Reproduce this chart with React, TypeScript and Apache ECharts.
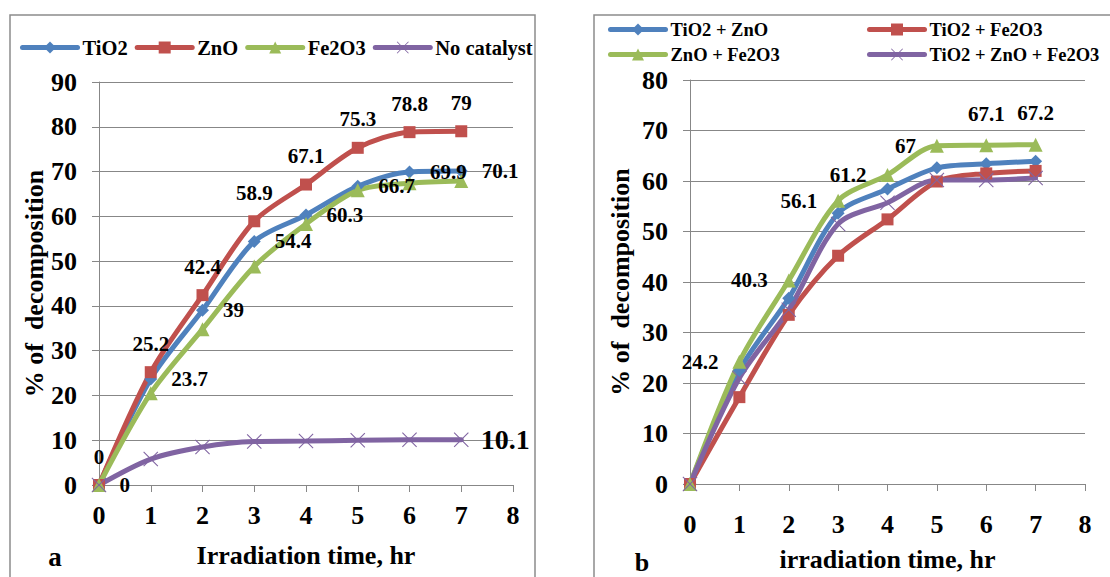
import React, { useEffect, useRef } from "react";
import * as echarts from "echarts";

const hours = [0, 1, 2, 3, 4, 5, 6, 7];

const namesA = ["TiO2", "ZnO", "Fe2O3", "No catalyst"];
const tio2A = [0, 23.7, 39, 54.4, 60.3, 66.7, 69.9, 70.1];
const znoA = [0, 25.2, 42.4, 58.9, 67.1, 75.3, 78.8, 79];
const fe2o3A = [0, 20.5, 34.8, 48.8, 58.3, 65.8, 67.4, 67.9];
const noCatA = [0, 5.8, 8.5, 9.7, 9.8, 10, 10.1, 10.1];

const namesB = ["TiO2 + ZnO", "TiO2 + Fe2O3", "ZnO + Fe2O3", "TiO2 + ZnO + Fe2O3"];
const tio2ZnoB = [0, 22.5, 36.8, 53.6, 58.4, 62.6, 63.4, 63.9];
const tio2Fe2o3B = [0, 17.2, 33.5, 45.2, 52.4, 59.9, 61.5, 62];
const znoFe2o3B = [0, 24.2, 40.3, 56.1, 61.2, 67, 67.1, 67.2];
const mixB = [0, 21, 34.5, 51.5, 55.7, 60.2, 60.2, 60.6];

const xTitleA = "Irradiation time, hr";
const xTitleB = "irradiation time, hr";
const yTitle = "% of  decomposition";

const FONT = "'Liberation Serif', 'Times New Roman', Times, serif";
const COLORS = ["#4F81BD", "#C0504D", "#9BBB59", "#8064A2"];
const XPATH =
  "path://M1,0 L10,9 L19,0 L20,1 L11,10 L20,19 L19,20 L10,11 L1,20 L0,19 L9,10 L0,1 Z";
const SYMBOLS = ["diamond", "rect", "triangle", XPATH];
const SIZES = [13, 12, 14, 15];
const GRID_COLOR = "#878787";

const bold = (size: number) => ({
  fontFamily: FONT,
  fontSize: size,
  fontWeight: "bold" as const,
  color: "#000",
});

function xAxis(gridIndex: number, name: string, nameGap: number, margin: number) {
  return {
    type: "value",
    gridIndex,
    min: 0,
    max: 8,
    interval: 1,
    name,
    nameLocation: "middle",
    nameGap,
    nameTextStyle: bold(26),
    axisLine: { show: true, onZero: false, lineStyle: { color: GRID_COLOR, width: 1 } },
    axisTick: { show: true, length: 7, lineStyle: { color: GRID_COLOR } },
    axisLabel: { margin, ...bold(26) },
    splitLine: { show: false },
  };
}

function yAxis(gridIndex: number, max: number, nameGap: number) {
  return {
    type: "value",
    gridIndex,
    min: 0,
    max,
    interval: 10,
    name: yTitle,
    nameLocation: "middle",
    nameGap,
    nameTextStyle: bold(26),
    axisLine: { show: true, lineStyle: { color: GRID_COLOR, width: 1 } },
    axisTick: { show: true, length: 7, lineStyle: { color: GRID_COLOR } },
    axisLabel: { margin: 22, ...bold(26) },
    splitLine: { show: true, lineStyle: { color: GRID_COLOR, width: 1 } },
  };
}

function lineSeries(
  name: string,
  values: number[],
  idx: number,
  axis: number,
  label: any,
  labelPos?: (i: number) => string
) {
  return {
    type: "line",
    name,
    xAxisIndex: axis,
    yAxisIndex: axis,
    smooth: 0.3,
    symbol: SYMBOLS[idx],
    symbolSize: SIZES[idx],
    lineStyle: { width: 5, color: COLORS[idx], cap: "round" },
    itemStyle: { color: COLORS[idx] },
    label,
    data: hours.map((h, i) =>
      labelPos ? { value: [h, values[i]], label: { position: labelPos(i) } } : [h, values[i]]
    ),
  };
}

const legendCommon = {
  itemWidth: 55,
  itemHeight: 15,
  padding: 0,
  lineStyle: { width: 5, cap: "round" },
};

export default function App() {
  const ref = useRef<HTMLDivElement>(null);
  useEffect(() => {
    if (!ref.current) return;
    const chart = echarts.init(ref.current, undefined, { renderer: "svg" });
    const valueFmt = (p: any) => String(p.value[1]);
    const option: any = {
      animation: false,
      backgroundColor: "#fff",
      grid: [
        { left: 99, top: 82, width: 414, height: 403 },
        { left: 690, top: 80, width: 395, height: 413 },
      ],
      xAxis: [xAxis(0, xTitleA, 57, 17), xAxis(1, xTitleB, 62, 27)],
      yAxis: [yAxis(0, 90, 50), yAxis(1, 80, 57)],
      legend: [
        {
          ...legendCommon,
          left: 20,
          top: 37,
          itemGap: 7,
          data: namesA,
          textStyle: bold(20.5),
        },
        ...namesB.map((n, i) => ({
          ...legendCommon,
          left: i % 2 === 0 ? 608 : 867,
          top: i < 2 ? 20 : 45,
          data: [n],
          textStyle: bold(18.5),
        })),
      ],
      series: [
        lineSeries(namesA[0], tio2A, 0, 0, {
          show: true,
          position: "right",
          distance: 14,
          formatter: valueFmt,
          ...bold(21),
        }),
        lineSeries(namesA[1], znoA, 1, 0, {
          show: true,
          position: "top",
          distance: 12,
          formatter: valueFmt,
          ...bold(21),
        }),
        lineSeries(namesA[2], fe2o3A, 2, 0, { show: false }),
        lineSeries(namesA[3], noCatA, 3, 0, {
          show: true,
          position: "right",
          distance: 12,
          formatter: (p: any) => (p.dataIndex === hours.length - 1 ? String(p.value[1]) : ""),
          ...bold(28),
        }),
        lineSeries(namesB[0], tio2ZnoB, 0, 1, { show: false }),
        lineSeries(namesB[1], tio2Fe2o3B, 1, 1, { show: false }),
        lineSeries(
          namesB[2],
          znoFe2o3B,
          2,
          1,
          {
            show: true,
            distance: 14,
            formatter: (p: any) => (p.dataIndex === 0 ? "" : String(p.value[1])),
            ...bold(21),
          },
          (i) => (i >= 6 ? "top" : "left")
        ),
        lineSeries(namesB[3], mixB, 3, 1, { show: false }),
      ],
      graphic: [
        {
          type: "rect",
          shape: { x: 10, y: 15, width: 525, height: 600 },
          style: { fill: "none", stroke: "#8c8c8c", lineWidth: 1.5 },
          silent: true,
        },
        {
          type: "rect",
          shape: { x: 594, y: 15, width: 530, height: 600 },
          style: { fill: "none", stroke: "#8c8c8c", lineWidth: 1.5 },
          silent: true,
        },
        {
          type: "text",
          x: 55,
          y: 557,
          style: {
            text: "a",
            fontFamily: FONT,
            fontSize: 27,
            fontWeight: "bold",
            fill: "#000",
            align: "center",
            verticalAlign: "middle",
          },
        },
        {
          type: "text",
          x: 642,
          y: 562,
          style: {
            text: "b",
            fontFamily: FONT,
            fontSize: 26,
            fontWeight: "bold",
            fill: "#000",
            align: "center",
            verticalAlign: "middle",
          },
        },
      ],
    };
    chart.setOption(option);
    return () => chart.dispose();
  }, []);
  return (
    <div
      ref={ref}
      style={{ position: "fixed", left: 0, top: 0, width: 1110, height: 577, background: "#fff" }}
    />
  );
}
